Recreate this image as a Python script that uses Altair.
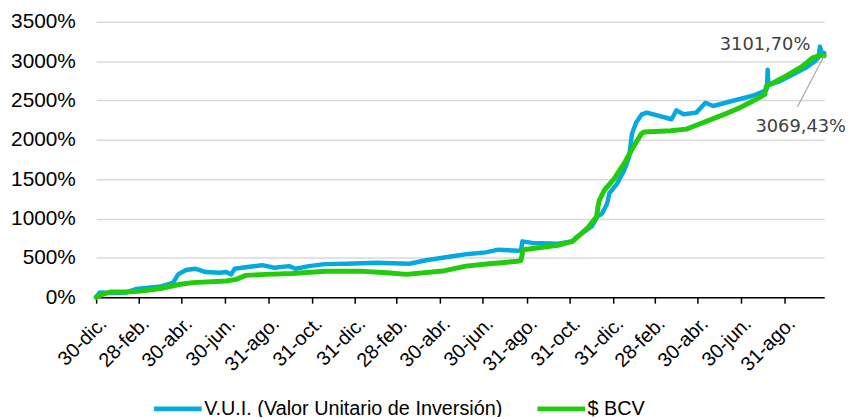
import json
from datetime import datetime, timezone

import altair as alt
import pandas as pd

# ---------------- data ----------------
series_names = ["V.U.I. (Valor Unitario de Inversión)", "$ BCV"]
series_colors = ["#05A9E0", "#22CC0C"]

vui_dates = [
    "2020-12-30", "2021-01-04", "2021-01-20", "2021-02-11", "2021-02-25", "2021-03-31",
    "2021-04-18", "2021-04-25", "2021-05-06", "2021-05-19", "2021-06-03", "2021-06-23",
    "2021-07-02", "2021-07-09", "2021-07-14", "2021-08-04", "2021-08-22", "2021-09-08",
    "2021-09-29", "2021-10-08", "2021-10-27", "2021-11-19", "2021-12-19", "2022-01-31",
    "2022-03-18", "2022-04-11", "2022-05-18", "2022-06-10", "2022-07-04", "2022-07-22",
    "2022-08-18", "2022-08-23", "2022-08-25", "2022-09-08", "2022-10-14", "2022-11-03",
    "2022-11-11", "2022-12-01", "2022-12-09", "2022-12-16", "2022-12-23", "2022-12-26",
    "2023-01-06", "2023-01-16", "2023-01-23", "2023-01-27", "2023-02-02", "2023-02-10",
    "2023-02-17", "2023-03-24", "2023-03-31", "2023-04-10", "2023-04-28", "2023-05-11",
    "2023-05-22", "2023-06-19", "2023-07-17", "2023-08-03", "2023-08-06", "2023-08-07",
    "2023-08-08", "2023-08-24", "2023-09-11", "2023-09-29", "2023-10-13", "2023-10-18",
    "2023-10-20", "2023-10-23", "2023-10-26",
]
vui_values = [
    0, 60, 52, 60, 105, 135,
    185, 290, 345, 362, 320, 311,
    320, 290, 362, 387, 407, 374,
    395, 362, 395, 420, 425, 437,
    425, 470, 520, 550, 570, 604,
    591, 595, 710, 690, 680, 710,
    772, 898, 1024, 1066, 1192, 1318,
    1444, 1611, 1779, 2073, 2220, 2325,
    2346, 2262, 2375, 2325, 2346, 2472,
    2430, 2497, 2560, 2623, 2650, 2892,
    2700, 2744, 2828, 2912, 3000, 3050,
    3185, 3090, 3101.70,
]

bcv_dates = [
    "2020-12-30", "2021-01-09", "2021-01-20", "2021-02-11", "2021-03-07", "2021-03-31",
    "2021-04-28", "2021-05-16", "2021-07-02", "2021-07-16", "2021-07-30", "2021-08-27",
    "2021-10-03", "2021-11-19", "2022-01-07", "2022-02-14", "2022-03-14", "2022-05-04",
    "2022-06-06", "2022-07-13", "2022-08-18", "2022-08-23", "2022-08-26", "2022-10-14",
    "2022-11-04", "2022-11-25", "2022-12-08", "2022-12-10", "2022-12-12", "2022-12-19",
    "2023-01-02", "2023-01-16", "2023-01-30", "2023-02-09", "2023-02-13", "2023-03-23",
    "2023-04-14", "2023-05-08", "2023-06-01", "2023-06-29", "2023-07-17", "2023-08-03",
    "2023-08-05", "2023-09-01", "2023-09-25", "2023-10-09", "2023-10-20", "2023-10-26",
]
bcv_values = [
    0, 40, 67, 65, 80, 110,
    164, 185, 206, 227, 277, 290,
    302, 330, 331, 310, 290, 332,
    395, 428, 457, 465, 604, 660,
    710, 877, 1024, 1150, 1234, 1360,
    1507, 1700, 1926, 2073, 2100, 2115,
    2136, 2220, 2304, 2409, 2493, 2577,
    2680, 2807, 2933, 3038, 3075, 3069.43,
]

tick_dates = [
    "2020-12-30", "2021-02-28", "2021-04-30", "2021-06-30", "2021-08-31", "2021-10-31",
    "2021-12-31", "2022-02-28", "2022-04-30", "2022-06-30", "2022-08-31", "2022-10-31",
    "2022-12-31", "2023-02-28", "2023-04-30", "2023-06-30", "2023-08-31",
]
tick_labels = [
    "30-dic.", "28-feb.", "30-abr.", "30-jun.", "31-ago.", "31-oct.",
    "31-dic.", "28-feb.", "30-abr.", "30-jun.", "31-ago.", "31-oct.",
    "31-dic.", "28-feb.", "30-abr.", "30-jun.", "31-ago.",
]
y_ticks = [0, 500, 1000, 1500, 2000, 2500, 3000, 3500]
x_domain = ["2020-12-30", "2023-10-26"]

final_vui = 3101.70
final_bcv = 3069.43
leader_date = "2023-09-18"
leader_value = 2417


def ts(d):
    return int(datetime.strptime(d, "%Y-%m-%d").replace(tzinfo=timezone.utc).timestamp() * 1000)


def pct(v):
    return f"{v:.2f}".replace(".", ",") + "%"


rows = []
for d, v in zip(vui_dates, vui_values):
    rows.append({"date": d, "value": v, "serie": series_names[0]})
for d, v in zip(bcv_dates, bcv_values):
    rows.append({"date": d, "value": v, "serie": series_names[1]})
df = pd.DataFrame(rows)

tick_ts = [ts(d) for d in tick_dates]
label_expr = (
    f"{json.dumps(tick_labels, ensure_ascii=False)}"
    f"[indexof({json.dumps(tick_ts)}, time(datum.value))]"
)

x_enc = alt.X(
    "date:T",
    scale=alt.Scale(type="utc", domain=[ts(x_domain[0]), ts(x_domain[1])], nice=False),
    axis=alt.Axis(
        values=tick_ts, labelExpr=label_expr, labelAngle=-45, grid=False, title=None,
        domainColor="black", domainWidth=1.5, tickColor="black", tickWidth=1.5, tickSize=6,
        labelFontSize=20, labelFont="Liberation Sans", labelColor="black", labelPadding=10,
        labelOverlap=False,
    ),
)
y_enc = alt.Y(
    "value:Q",
    scale=alt.Scale(domain=[0, 3500], nice=False, zero=True),
    axis=alt.Axis(
        values=y_ticks, tickCount=8, labelExpr="datum.value + '%'", grid=True,
        gridColor="#d9d9d9", gridWidth=1.5, domain=False, ticks=False, title=None,
        labelFontSize=21, labelFont="Liberation Sans", labelColor="black", labelPadding=21,
        labelOverlap=False,
    ),
)
color_enc = alt.Color(
    "serie:N",
    scale=alt.Scale(domain=series_names, range=series_colors),
    legend=alt.Legend(
        title=None, orient="none", legendX=56, legendY=364, direction="horizontal",
        symbolType="stroke", symbolStrokeWidth=5, symbolSize=2304, labelFontSize=20,
        labelFont="Liberation Sans", labelColor="black", labelOffset=0, columnPadding=24,
        padding=0, labelLimit=600,
    ),
)

base = alt.Chart(df)
blue = base.transform_filter(alt.datum.serie == series_names[0]).mark_line(
    strokeWidth=4.5, strokeJoin="round", strokeCap="round"
).encode(x=x_enc, y=y_enc, color=color_enc)
green = base.transform_filter(alt.datum.serie == series_names[1]).mark_line(
    strokeWidth=5, strokeJoin="round", strokeCap="round"
).encode(x=x_enc, y=y_enc, color=color_enc)

ann_vui = pd.DataFrame([{"date": vui_dates[-1], "value": final_vui, "label": pct(final_vui)}])
ann_bcv = pd.DataFrame([{"date": bcv_dates[-1], "value": final_bcv, "label": pct(final_bcv),
                         "date2": leader_date, "value2": leader_value}])

leader = alt.Chart(ann_bcv).mark_rule(color="#a6a6a6", strokeWidth=1.2).encode(
    x=x_enc, y=y_enc, x2=alt.X2("date2:T"), y2=alt.Y2("value2:Q")
)
text_vui = alt.Chart(ann_vui).mark_text(
    align="right", baseline="alphabetic", dx=-14, dy=-3, fontSize=18, font="DejaVu Sans", color="#404040"
).encode(x=x_enc, y=y_enc, text="label:N")
text_bcv = alt.Chart(ann_bcv).mark_text(
    align="right", baseline="alphabetic", dx=22, dy=77, fontSize=18, font="DejaVu Sans", color="#404040"
).encode(x=x_enc, y=y_enc, text="label:N")

chart = alt.layer(blue, green, leader, text_vui, text_bcv).properties(
    width=735, height=278,
    autosize=alt.AutoSizeParams(type="none"),
    padding={"left": 89, "top": 12, "right": 21, "bottom": 119},
).configure_view(stroke=None)

chart.save("out.html", embed_options={"renderer": "svg", "actions": False})
